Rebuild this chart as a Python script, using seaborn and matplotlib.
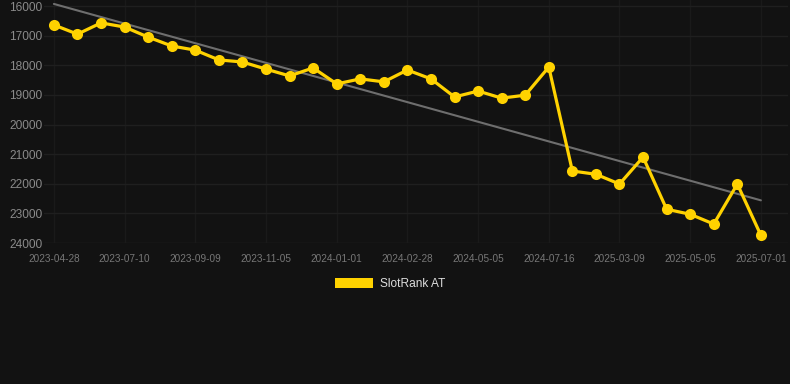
import numpy as np
import pandas as pd
import matplotlib
matplotlib.use("Agg")
import matplotlib.pyplot as plt
from matplotlib.patches import Patch
import seaborn as sns

# Rank values (lower is better, axis inverted)
ranks = [16640, 16950, 16570, 16710, 17050, 17350, 17490, 17820, 17890, 18130,
         18360, 18090, 18630, 18460, 18560, 18160, 18460, 19070, 18870, 19110,
         19010, 18060, 21570, 21680, 22010, 21100, 22860, 23030, 23360, 22010,
         23740]
tick_labels = ['2023-04-28', '2023-07-10', '2023-09-09', '2023-11-05', '2024-01-01',
               '2024-02-28', '2024-05-05', '2024-07-16', '2025-03-09', '2025-05-05',
               '2025-07-01']
trend_ends = [15930, 22560]
series_name = 'SlotRank AT'

bg = '#121212'
gold = '#ffd200'

df = pd.DataFrame({'pos': np.arange(len(ranks)), 'rank': ranks})

sns.set_style("dark")
plt.rcParams['font.family'] = ['Liberation Sans', 'DejaVu Sans']

fig = plt.figure(figsize=(7.9, 3.84), dpi=100, facecolor=bg)
ax = fig.add_axes([44 / 790, 1 - 243 / 384, (788 - 44) / 790, 243 / 384])
ax.set_facecolor(bg)

# trend line
ax.plot([0, len(ranks) - 1], trend_ends, color='#6e6e6e', lw=1.5, zorder=2, clip_on=False)

sns.lineplot(data=df, x='pos', y='rank', ax=ax, color=gold, lw=2.3,
             marker='o', markersize=8, markeredgewidth=0, zorder=3)

ax.set_xlim(-0.42, 31.15)
ax.set_ylim(24000, 16000 - 6 / 29.6 * 1000)
ax.set_yticks(range(16000, 24001, 1000))
ax.set_yticklabels([str(v) for v in range(16000, 24001, 1000)], color='#8a8a8a', fontsize=8.6)
ax.set_xticks(range(0, len(ranks), 3))
ax.set_xticklabels(tick_labels, color='#777777', fontsize=7.2)
ax.tick_params(axis='x', length=0, pad=8)
ax.tick_params(axis='y', length=0, pad=1)
ax.grid(True, axis='y', color='#1f1f1f', lw=1)
ax.grid(True, axis='x', color='#1a1a1a', lw=1)
ax.set_xlabel('')
ax.set_ylabel('')
for s in ax.spines.values():
    s.set_visible(False)
ax.axhline(24000, color='#2a2a2a', lw=0.8, zorder=1)

handle = Patch(facecolor=gold, edgecolor='none', label=series_name)
fig.legend(handles=[handle], loc='center', bbox_to_anchor=(390 / 790, 1 - 284 / 384),
           frameon=False, handlelength=3.2, handleheight=0.9, handletextpad=0.6,
           fontsize=8.6, labelcolor='#dddddd')

fig.savefig('out.png', dpi=100, facecolor=bg)
